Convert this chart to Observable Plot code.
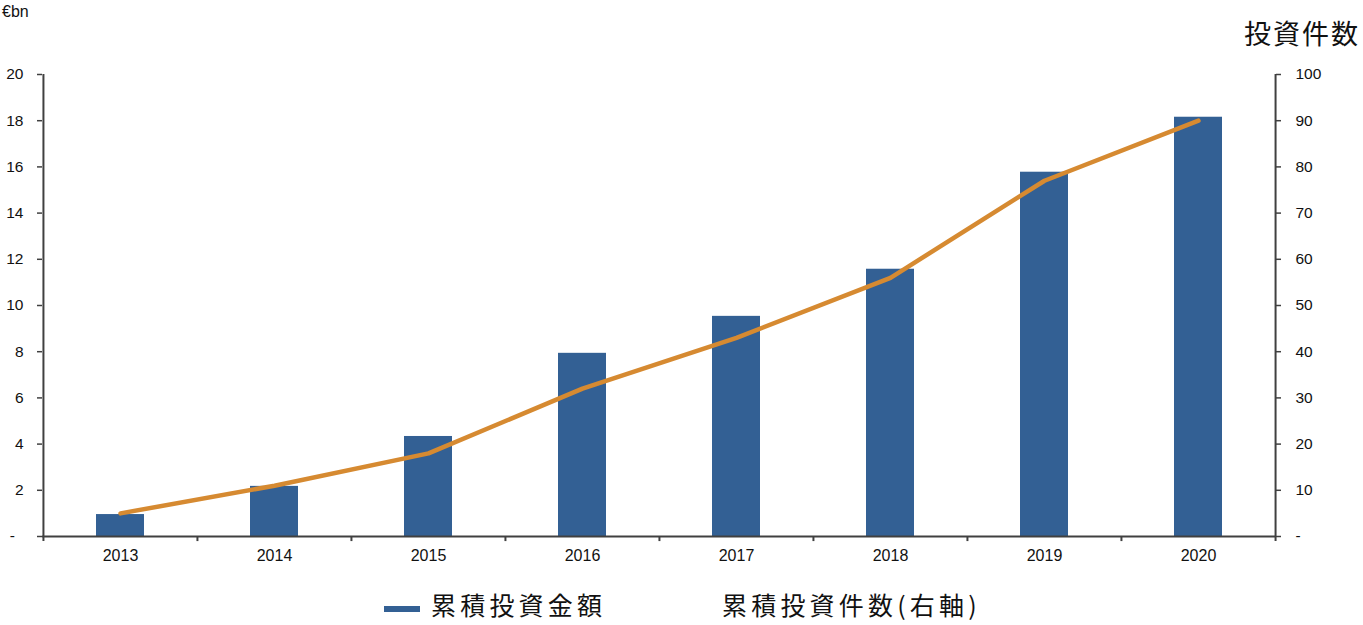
<!DOCTYPE html>
<html>
<head>
<meta charset="utf-8">
<script src="https://cdn.jsdelivr.net/npm/d3@7"></script>
<script src="https://cdn.jsdelivr.net/npm/@observablehq/plot@0.6"></script>
<style>
  body { margin: 0; background: #fff; }
  #wrap { position: relative; width: 1363px; height: 625px; overflow: hidden; font-family: "Liberation Sans", Arial, sans-serif; }
  .abs { position: absolute; white-space: nowrap; line-height: 1; }
  .cjk { font-family: "Noto Sans CJK JP", "Noto Sans CJK SC", sans-serif; color: #111; }
</style>
</head>
<body>
<div id="wrap">
  <div id="chart" class="abs" style="left:0;top:0;"></div>
  <div class="abs" style="left:2px;top:4px;font-size:16px;color:#111;">€bn</div>
  <div class="abs cjk" style="left:1244px;top:19px;font-size:27px;letter-spacing:2px;">投資件数</div>
  <div class="abs" style="left:384px;top:606px;width:36px;height:6px;background:#336094;"></div>
  <div class="abs cjk" style="left:431px;top:592px;font-size:25px;letter-spacing:4.2px;">累積投資金額</div>
  <div class="abs cjk" style="left:722px;top:592px;font-size:25px;letter-spacing:4.2px;">累積投資件数(右軸)</div>
</div>
<script>
const years = ["2013", "2014", "2015", "2016", "2017", "2018", "2019", "2020"];
const amount = [0.95, 2.17, 4.33, 7.93, 9.53, 11.57, 15.77, 18.15];   // €bn, left axis
const count = [5, 11, 18, 32, 43, 56, 77, 90];                        // 件数, right axis
const leftTicks = [0, 2, 4, 6, 8, 10, 12, 14, 16, 18, 20];
const rightTicks = [0, 10, 20, 30, 40, 50, 60, 70, 80, 90, 100];

const data = years.map((y, i) => ({year: y, amount: amount[i], count: count[i]}));

const W = 1363, H = 580, ML = 42, MR = 88, MT = 74, MB = 44;
const bw = (W - ML - MR) / years.length;
const ratio = rightTicks[rightTicks.length - 1] / leftTicks[leftTicks.length - 1];
const axisColor = "#404040";
const below = -0.22;

const chart = Plot.plot({
  width: W,
  height: H,
  marginLeft: ML,
  marginRight: MR,
  marginTop: MT,
  marginBottom: MB,
  style: {fontFamily: "'Liberation Sans', Arial, sans-serif", fontSize: "16px", color: "#111", background: "#fff"},
  x: {type: "band", domain: years, padding: 0, label: null},
  y: {domain: [0, 20], label: null},
  marks: [
    Plot.barY(data, {x: "year", y: "amount", fill: "#336094", insetLeft: 53, insetRight: 53}),
    Plot.ruleY([0], {stroke: axisColor, strokeWidth: 2}),
    Plot.ruleX([years[0]], {x: d => d, y1: below, y2: 20, dx: -bw / 2, stroke: axisColor, strokeWidth: 2}),
    Plot.ruleX([years[years.length - 1]], {x: d => d, y1: below, y2: 20, dx: bw / 2, stroke: axisColor, strokeWidth: 2}),
    Plot.ruleX(years.slice(1), {x: d => d, y1: below, y2: 0, dx: -bw / 2, stroke: axisColor, strokeWidth: 2}),
    Plot.lineY(data, {x: "year", y: d => d.count / ratio, stroke: "#D68A31", strokeWidth: 4.5, strokeLinecap: "round", strokeLinejoin: "round"}),
    Plot.axisX({tickSize: 0, tickPadding: 13, fontSize: "16px", label: null}),
    Plot.axisY({anchor: "left", ticks: leftTicks, tickSize: 5, tickPadding: 14, stroke: axisColor, strokeWidth: 1.5, fontSize: "15.5px", label: null,
      tickFormat: d => d === 0 ? "-\u2007" : String(d)}),
    Plot.axisY({anchor: "right", ticks: rightTicks.map(v => v / ratio), tickSize: 5, tickPadding: 15, stroke: axisColor, strokeWidth: 1.5, fontSize: "15.5px", label: null,
      tickFormat: d => { const v = Math.round(d * ratio); return v === 0 ? "-" : String(v); }})
  ]
});
document.getElementById("chart").appendChild(chart);
</script>
</body>
</html>
